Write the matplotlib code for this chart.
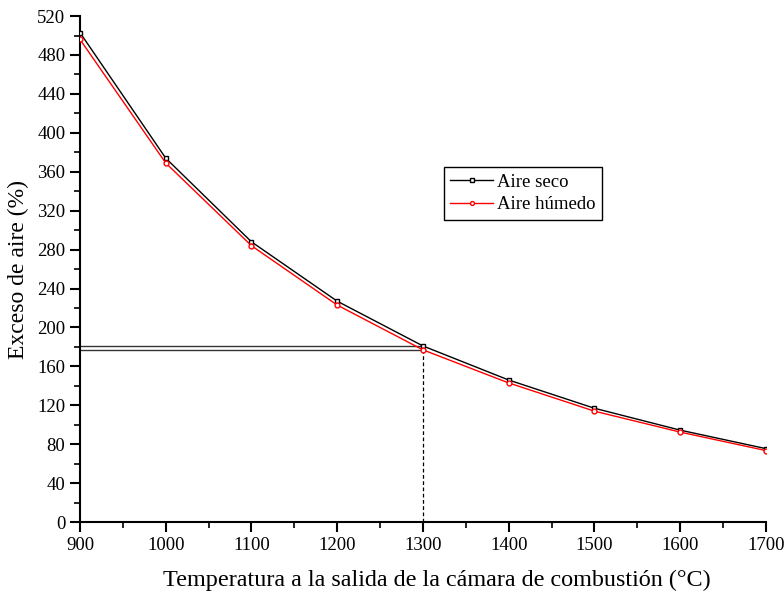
import matplotlib.pyplot as plt
from matplotlib.ticker import MultipleLocator

plt.rcParams['font.family'] = ['Liberation Serif', 'DejaVu Serif']

# Datos
temperatura = [900, 1000, 1100, 1200, 1300, 1400, 1500, 1600, 1700]
aire_seco = [503, 374, 288, 227, 181, 146, 117, 94.5, 75.5]
aire_humedo = [496, 369, 284, 223, 177, 143, 114, 92.5, 73.5]
t_ref = 1300

fig = plt.figure(figsize=(7.84, 5.94), dpi=100)
ax = fig.add_axes([0.102, 0.121, 0.875, 0.852])

ax.plot(temperatura, aire_seco, color='black', linewidth=1, marker='s', markersize=3.5,
        markerfacecolor='white', markeredgewidth=1, label='Aire seco', zorder=3)
ax.plot(temperatura, aire_humedo, color='red', linewidth=1, marker='o', markersize=3.5,
        markerfacecolor='white', markeredgewidth=1, label='Aire húmedo', zorder=3)

# lineas de referencia a 1300 °C
i = temperatura.index(t_ref)
ax.plot([900, t_ref], [aire_seco[i], aire_seco[i]], color='#333333', linewidth=1)
ax.plot([900, t_ref], [aire_humedo[i], aire_humedo[i]], color='#333333', linewidth=1)
ax.plot([t_ref, t_ref], [0, aire_humedo[i]], color='black', linewidth=0.9, linestyle='--', dashes=(3, 2))

ax.set_xlim(900, 1700)
ax.set_ylim(0, 520)
ax.xaxis.set_major_locator(MultipleLocator(100))
ax.xaxis.set_minor_locator(MultipleLocator(50))
ax.yaxis.set_major_locator(MultipleLocator(40))
ax.yaxis.set_minor_locator(MultipleLocator(20))

ax.spines['top'].set_visible(False)
ax.spines['right'].set_visible(False)
ax.spines['left'].set_linewidth(1.5)
ax.spines['bottom'].set_linewidth(1.5)
ax.tick_params(axis='both', which='major', direction='out', length=7, width=1.5, labelsize=13.5)
ax.tick_params(axis='both', which='minor', direction='out', length=4, width=1.2)

ax.set_xlabel('Temperatura a la salida de la cámara de combustión (°C)', fontsize=17.4, labelpad=12)
ax.xaxis.set_label_coords(0.52, -0.095)
ax.set_ylabel('Exceso de aire (%)', fontsize=17, labelpad=6)

leg = ax.legend(loc='lower left', bbox_to_anchor=(0.53, 0.597), borderaxespad=0, fontsize=13.5,
                fancybox=False, edgecolor='black', framealpha=1, handlelength=2.3,
                handletextpad=0.2, borderpad=0.35, labelspacing=0.3, markerscale=0.8)
leg.get_frame().set_linewidth(1)

fig.savefig('out.png', dpi=100)
